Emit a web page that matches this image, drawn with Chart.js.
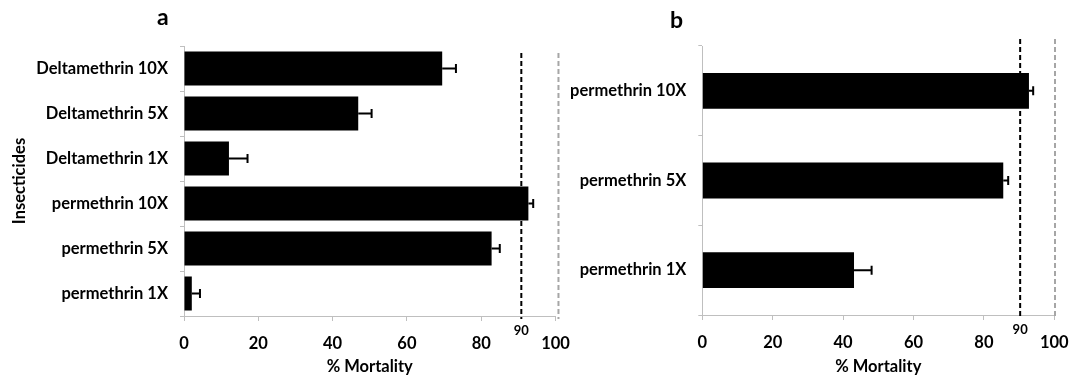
<html>
    <head>
        <script src="https://cdn.jsdelivr.net/npm/chart.js@4.4.1/dist/chart.umd.min.js"></script>
        <style type="text/css">
            body {
                margin: 0;
                padding: 0;
                background: #fff;
                width: 1081px;
                height: 378px;
                overflow: hidden;
                position: relative;
                font-family: Lato, "Open Sans", sans-serif;
            }
            .box {
                position: absolute;
                top: 0;
                height: 378px;
            }
            #boxA { left: 0px; width: 600px; }
            #boxB { left: 555px; width: 560px; }
            .panel {
                position: absolute;
                font-weight: bold;
                font-size: 23px;
                line-height: 23px;
                color: #000;
            }
        </style>
    </head>
    <body>
        <div class="box" id="boxA"><canvas id="chartA"></canvas></div>
        <div class="box" id="boxB"><canvas id="chartB"></canvas></div>
        <div class="panel" style="left:157px; top:5px;">a</div>
        <div class="panel" style="left:670px; top:8px;">b</div>

        <script>
        // panel a
        const labelsA = ['Deltamethrin 10X', 'Deltamethrin 5X', 'Deltamethrin 1X', 'permethrin 10X', 'permethrin 5X', 'permethrin 1X'];
        const mortalityA = [69.5, 46.9, 12.1, 92.7, 82.8, 2.1];
        const errorA = [3.7, 3.6, 5.0, 1.3, 2.2, 2.2];
        const refLinesA = [90.8, 100.8];

        // panel b
        const labelsB = ['permethrin 10X', 'permethrin 5X', 'permethrin 1X'];
        const mortalityB = [92.8, 85.5, 43.1];
        const errorB = [1.2, 1.4, 5.0];
        const refLinesB = [90.3, 100.2];

        const xTicks = [0, 20, 40, 60, 80, 100];
        const thresholdLabel = '90';

        const axisGray = '#bfbfbf';
        const tickFont = { family: 'Lato', size: 16.5, weight: 'bold' };

        // error bars (positive side only) + the two dashed reference lines
        const extras = {
            id: 'extras',
            afterDatasetsDraw(chart, args, opts) {
                const ctx = chart.ctx;
                const x = chart.scales.x;
                const meta = chart.getDatasetMeta(0);

                ctx.save();
                ctx.strokeStyle = '#000';
                ctx.lineWidth = 2;
                meta.data.forEach((bar, i) => {
                    const x0 = x.getPixelForValue(opts.values[i]);
                    const x1 = x.getPixelForValue(opts.values[i] + opts.errors[i]);
                    ctx.beginPath();
                    ctx.moveTo(x0, bar.y);
                    ctx.lineTo(x1, bar.y);
                    ctx.moveTo(x1, bar.y - 4.5);
                    ctx.lineTo(x1, bar.y + 4.5);
                    ctx.stroke();
                });

                const top = chart.chartArea.top + opts.lineTop;
                const bottom = chart.chartArea.bottom + 3;
                ctx.setLineDash([5, 3]);
                ctx.lineWidth = 2;
                ctx.strokeStyle = '#000';
                let px = x.getPixelForValue(opts.lines[0]);
                ctx.beginPath(); ctx.moveTo(px, top); ctx.lineTo(px, bottom); ctx.stroke();
                ctx.strokeStyle = '#a6a6a6';
                let px2 = x.getPixelForValue(opts.lines[1]);
                ctx.beginPath(); ctx.moveTo(px2, top); ctx.lineTo(px2, bottom); ctx.stroke();
                ctx.setLineDash([]);

                ctx.fillStyle = '#000';
                ctx.font = 'bold 13px Lato';
                ctx.textAlign = 'center';
                ctx.textBaseline = 'middle';
                ctx.fillText(thresholdLabel, px, x.top + 15);
                ctx.restore();
            }
        };

        function makeChart(id, labels, values, errors, lines, opt) {
            return new Chart(document.getElementById(id), {
                type: 'bar',
                data: {
                    labels: labels,
                    datasets: [{
                        data: values,
                        backgroundColor: '#000',
                        borderWidth: 0,
                        barPercentage: opt.barPct,
                        categoryPercentage: 1
                    }]
                },
                options: {
                    indexAxis: 'y',
                    responsive: true,
                    maintainAspectRatio: false,
                    animation: false,
                    layout: { padding: { left: 0, top: opt.top, right: opt.right, bottom: 0 } },
                    plugins: {
                        legend: { display: false },
                        tooltip: { enabled: false },
                        extras: { values: values, errors: errors, lines: lines, lineTop: opt.lineTop }
                    },
                    scales: {
                        x: {
                            min: 0,
                            max: 100,
                            afterBuildTicks: (s) => { s.ticks = xTicks.map(v => ({ value: v })); },
                            afterFit: (s) => { s.height = 378 - opt.bottomAxis; },
                            grid: { drawOnChartArea: false, color: axisGray, tickLength: 5 },
                            border: { color: axisGray, width: 1 },
                            ticks: { color: '#000', font: tickFont, padding: 13, maxRotation: 0 },
                            title: {
                                display: true,
                                text: '% Mortality',
                                color: '#000',
                                font: { family: 'Lato', size: 16.5, weight: 'bold' },
                                padding: { top: 0, bottom: 1 }
                            }
                        },
                        y: {
                            afterFit: (s) => { s.width = opt.axisWidth; },
                            grid: { drawOnChartArea: false, color: axisGray, tickLength: 4, offset: true },
                            border: { color: axisGray, width: 1 },
                            ticks: { color: '#000', font: tickFont, padding: 12 },
                            title: {
                                display: opt.yTitle !== '',
                                text: opt.yTitle,
                                color: '#000',
                                font: { family: 'Lato', size: 16.5, weight: 'bold' },
                                padding: { top: 10, bottom: 0 }
                            }
                        }
                    }
                },
                plugins: [extras]
            });
        }

        makeChart('chartA', labelsA, mortalityA, errorA, refLinesA,
            { barPct: 0.76, top: 46, right: 600 - 555.5, bottomAxis: 316, axisWidth: 184, lineTop: 7, yTitle: 'Insecticides' });
        makeChart('chartB', labelsB, mortalityB, errorB, refLinesB,
            { barPct: 0.4, top: 46, right: 1115 - 1054.3, bottomAxis: 315, axisWidth: 702.3 - 555, lineTop: -7, yTitle: '' });
        </script>
    </body>
</html>
